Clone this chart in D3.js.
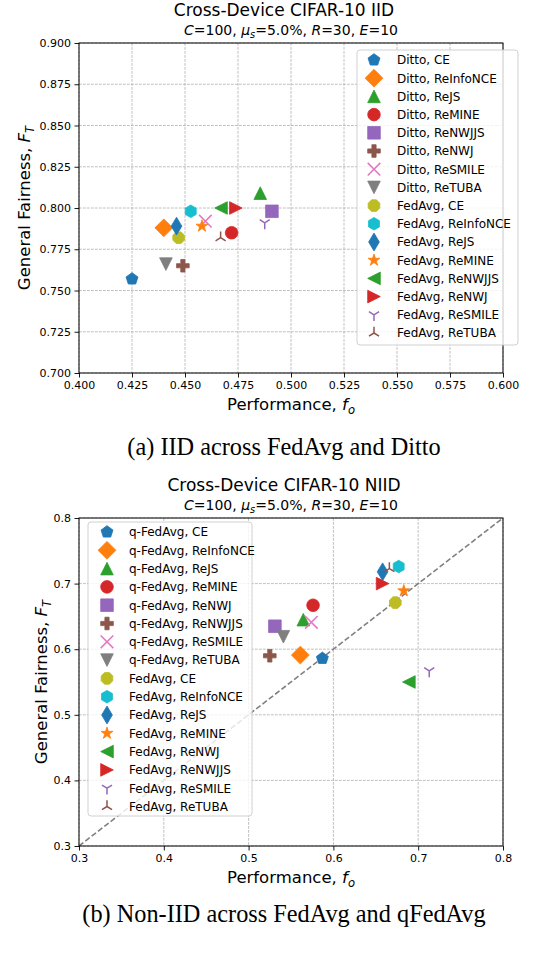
<!DOCTYPE html>
<html>
<head>
<meta charset="utf-8">
<script src="https://cdn.jsdelivr.net/npm/d3@7"></script>
<style>
    body { margin: 0; background: #fff; overflow: hidden; }
    svg { display: block; }
</style>
</head>
<body>
<svg id="fig" width="546" height="960"></svg>
<script>
// marker and colour cycle, same order in both panels
const markerTypes = ["p", "D", "^", "o", "s", "P", "x", "v", "8", "h", "d", "*", "<", ">", "1", "2"];
const tab10 = ["#1f77b4", "#ff7f0e", "#2ca02c", "#d62728", "#9467bd",
    "#8c564b", "#e377c2", "#7f7f7f", "#bcbd22", "#17becf"];

// (a) IID, Ditto vs FedAvg
const iidLabels = ["Ditto, CE", "Ditto, ReInfoNCE", "Ditto, ReJS", "Ditto, ReMINE",
    "Ditto, ReNWJJS", "Ditto, ReNWJ", "Ditto, ReSMILE", "Ditto, ReTUBA",
    "FedAvg, CE", "FedAvg, ReInfoNCE", "FedAvg, ReJS", "FedAvg, ReMINE",
    "FedAvg, ReNWJJS", "FedAvg, ReNWJ", "FedAvg, ReSMILE", "FedAvg, ReTUBA"];
const iidPerf = [0.425, 0.440, 0.4855, 0.472, 0.491, 0.449, 0.4596, 0.441,
    0.447, 0.4527, 0.446, 0.458, 0.467, 0.474, 0.4876, 0.4668];
const iidFair = [0.757, 0.788, 0.809, 0.785, 0.798, 0.765, 0.792, 0.766,
    0.782, 0.798, 0.789, 0.789, 0.800, 0.800, 0.791, 0.782];
const iidTicksX = [0.400, 0.425, 0.450, 0.475, 0.500, 0.525, 0.550, 0.575, 0.600];
const iidTicksY = [0.700, 0.725, 0.750, 0.775, 0.800, 0.825, 0.850, 0.875, 0.900];

// (b) Non-IID, q-FedAvg vs FedAvg
const niidLabels = ["q-FedAvg, CE", "q-FedAvg, ReInfoNCE", "q-FedAvg, ReJS", "q-FedAvg, ReMINE",
    "q-FedAvg, ReNWJ", "q-FedAvg, ReNWJJS", "q-FedAvg, ReSMILE", "q-FedAvg, ReTUBA",
    "FedAvg, CE", "FedAvg, ReInfoNCE", "FedAvg, ReJS", "FedAvg, ReMINE",
    "FedAvg, ReNWJ", "FedAvg, ReNWJJS", "FedAvg, ReSMILE", "FedAvg, ReTUBA"];
const niidPerf = [0.587, 0.561, 0.5645, 0.576, 0.531, 0.525, 0.574, 0.541,
    0.673, 0.677, 0.658, 0.683, 0.689, 0.658, 0.713, 0.666];
const niidFair = [0.586, 0.591, 0.645, 0.667, 0.635, 0.590, 0.641, 0.619,
    0.671, 0.726, 0.718, 0.689, 0.550, 0.700, 0.567, 0.723];
const niidTicks = [0.3, 0.4, 0.5, 0.6, 0.7, 0.8];
const diagonal = [0.3, 0.8];

const FONT = "DejaVu Sans";
const SERIF = "Liberation Serif";
const MS = 12.6;   // marker size, px

// matplotlib-like marker outlines centred on (0,0)
function polygon(n, r, rot) {
    let pts = [];
    for (let i = 0; i < n; i++) {
        let a = rot + i * 2 * Math.PI / n;
        pts.push([r * Math.sin(a), -r * Math.cos(a)]);
    }
    return "M" + pts.map(p => p.join(",")).join("L") + "Z";
}

function markerPath(type, ms) {
    let r = ms / 2;
    switch (type) {
        case "o": return `M${r},0A${r},${r} 0 1,1 ${-r},0A${r},${r} 0 1,1 ${r},0Z`;
        case "s": return `M${-r},${-r}H${r}V${r}H${-r}Z`;
        case "D": { let h = r * Math.SQRT2; return `M0,${-h}L${h},0L0,${h}L${-h},0Z`; }
        case "d": { let h = r * Math.SQRT2, w = 0.6 * h; return `M0,${-h}L${w},0L0,${h}L${-w},0Z`; }
        case "^": return `M0,${-r}L${r},${r}L${-r},${r}Z`;
        case "v": return `M0,${r}L${r},${-r}L${-r},${-r}Z`;
        case "<": return `M${-r},0L${r},${-r}L${r},${r}Z`;
        case ">": return `M${r},0L${-r},${-r}L${-r},${r}Z`;
        case "p": return polygon(5, r, 0);
        case "h": return polygon(6, r, 0);
        case "8": return polygon(8, r, Math.PI / 8);
        case "*": {
            let pts = [];
            for (let i = 0; i < 10; i++) {
                let rr = i % 2 ? r * 0.381966 : r, a = i * Math.PI / 5;
                pts.push([rr * Math.sin(a), -rr * Math.cos(a)]);
            }
            return "M" + pts.map(p => p.join(",")).join("L") + "Z";
        }
        case "P": {
            let u = ms / 6;
            let v = [[-1, -3], [1, -3], [1, -1], [3, -1], [3, 1], [1, 1], [1, 3], [-1, 3],
                [-1, 1], [-3, 1], [-3, -1], [-1, -1]];
            return "M" + v.map(p => [p[0] * u, p[1] * u].join(",")).join("L") + "Z";
        }
        case "x": return `M${-r},${-r}L${r},${r}M${-r},${r}L${r},${-r}`;
        case "1": return `M0,0V${r}M0,0L${0.8 * r},${-0.5 * r}M0,0L${-0.8 * r},${-0.5 * r}`;
        case "2": return `M0,0V${-r}M0,0L${0.8 * r},${0.5 * r}M0,0L${-0.8 * r},${0.5 * r}`;
    }
}

function drawMarker(g, type, color, x, y) {
    let lineOnly = (type == "x" || type == "1" || type == "2");
    g.append("path")
        .attr("d", markerPath(type, MS))
        .attr("transform", `translate(${x},${y})`)
        .attr("fill", lineOnly ? "none" : color)
        .attr("stroke", color)
        .attr("stroke-width", lineOnly ? 1.5 : 0.8)
        .attr("stroke-linejoin", "miter");
}

// text with italic / subscript pieces (mathtext stand-in)
function richText(sel, parts, size) {
    let shift = 0;
    parts.forEach(p => {
        let ts = sel.append("tspan").text(p.t);
        if (p.i) ts.style("font-style", "italic");
        let target = p.sub ? size * 0.24 : 0;
        if (target != shift) { ts.attr("dy", target - shift); shift = target; }
        if (p.sub) ts.style("font-size", (size * 0.7) + "px");
    });
}

const svg = d3.select("#fig");
svg.append("rect").attr("width", 546).attr("height", 960).attr("fill", "#fff");

const subtitleParts = [{ t: "C", i: true }, { t: "=100, " }, { t: "μ", i: true }, { t: "s", i: true, sub: true },
    { t: "=5.0%, " }, { t: "R", i: true }, { t: "=30, " }, { t: "E", i: true }, { t: "=10" }];

function panel(o) {
    let x = d3.scaleLinear().domain(o.xDomain).range([o.left, o.right]),
        y = d3.scaleLinear().domain(o.yDomain).range([o.bottom, o.top]);
    let g = svg.append("g");

    // titles
    g.append("text").attr("x", 284).attr("y", o.top - 27)
        .attr("text-anchor", "middle").style("font", `17px "${FONT}"`)
        .text(o.title);
    let st = g.append("text").attr("x", (o.left + o.right) / 2).attr("y", o.top - 8)
        .attr("text-anchor", "middle").style("font", `14px "${FONT}"`);
    richText(st, subtitleParts, 14);

    // grid
    let grid = g.append("g").attr("stroke", "#b0b0b0").attr("stroke-width", 0.8)
        .attr("stroke-dasharray", "2.8,1.2");
    o.xTicks.forEach(t => grid.append("line")
        .attr("x1", x(t)).attr("x2", x(t)).attr("y1", o.top).attr("y2", o.bottom));
    o.yTicks.forEach(t => grid.append("line")
        .attr("y1", y(t)).attr("y2", y(t)).attr("x1", o.left).attr("x2", o.right));

    if (o.diagonal) {
        g.append("line")
            .attr("x1", x(o.diagonal[0])).attr("y1", y(o.diagonal[0]))
            .attr("x2", x(o.diagonal[1])).attr("y2", y(o.diagonal[1]))
            .attr("stroke", "#808080").attr("stroke-width", 1.6)
            .attr("stroke-dasharray", "5.5,2.5");
    }

    // points
    let pts = g.append("g");
    o.perf.forEach((v, i) => drawMarker(pts, markerTypes[i], tab10[i % 10], x(v), y(o.fair[i])));

    // axes
    let xAxis = d3.axisBottom(x).tickValues(o.xTicks).tickFormat(d3.format(o.fmt))
        .tickSizeInner(4.5).tickSizeOuter(0).tickPadding(3.5);
    let yAxis = d3.axisLeft(y).tickValues(o.yTicks).tickFormat(d3.format(o.fmt))
        .tickSizeInner(4.5).tickSizeOuter(0).tickPadding(3.5);
    let ax = g.append("g").attr("transform", `translate(0,${o.bottom})`).call(xAxis);
    let ay = g.append("g").attr("transform", `translate(${o.left},0)`).call(yAxis);
    [ax, ay].forEach(a => {
        a.select(".domain").remove();
        a.selectAll("text").style("font", `11px "${FONT}"`).attr("fill", "#000");
        a.selectAll("line").attr("stroke", "#000").attr("stroke-width", 0.9);
    });

    g.append("rect").attr("x", o.left).attr("y", o.top)
        .attr("width", o.right - o.left).attr("height", o.bottom - o.top)
        .attr("fill", "none").attr("stroke", "#000").attr("stroke-width", 1);

    // axis labels
    let xl = g.append("text").attr("x", (o.left + o.right) / 2).attr("y", o.bottom + 37)
        .attr("text-anchor", "middle").style("font", `16.5px "${FONT}"`);
    richText(xl, [{ t: "Performance, " }, { t: "f", i: true }, { t: "o", i: true, sub: true }], 16.5);
    let yl = g.append("text")
        .attr("transform", `translate(${o.ylabelX},${(o.top + o.bottom) / 2}) rotate(-90)`)
        .attr("text-anchor", "middle").style("font", `16.5px "${FONT}"`);
    richText(yl, [{ t: "General Fairness, " }, { t: "F", i: true }, { t: "T", i: true, sub: true }], 16.5);

    // legend
    let L = o.legend;
    let lg = g.append("g");
    lg.append("rect").attr("x", L.x).attr("y", L.y).attr("width", L.w).attr("height", L.h)
        .attr("rx", 3).attr("fill", "#fff").attr("fill-opacity", 0.8)
        .attr("stroke", "#cccccc").attr("stroke-width", 0.9);
    o.labels.forEach((lab, i) => {
        let cy = L.row0 + i * L.step;
        drawMarker(lg, markerTypes[i], tab10[i % 10], L.mx, cy);
        lg.append("text").attr("x", L.tx).attr("y", cy).attr("dy", "0.36em")
            .style("font", `12px "${FONT}"`).text(lab);
    });

    // caption
    svg.append("text").attr("x", 284).attr("y", o.caption.y)
        .attr("text-anchor", "middle").style("font", `24.3px "${SERIF}"`)
        .text(o.caption.text);
}

panel({
    title: "Cross-Device CIFAR-10 IID",
    left: 79, right: 503, top: 43, bottom: 373,
    xDomain: [0.4, 0.6], yDomain: [0.7, 0.9],
    xTicks: iidTicksX, yTicks: iidTicksY, fmt: ".3f",
    perf: iidPerf, fair: iidFair, labels: iidLabels,
    ylabelX: 30,
    legend: { x: 357, y: 50, w: 161, h: 295, row0: 60, step: 18.2, mx: 374, tx: 397 },
    caption: { text: "(a) IID across FedAvg and Ditto", y: 455 }
});

panel({
    title: "Cross-Device CIFAR-10 NIID",
    left: 79, right: 503, top: 518, bottom: 846,
    xDomain: [0.3, 0.8], yDomain: [0.3, 0.8],
    xTicks: niidTicks, yTicks: niidTicks, fmt: ".1f",
    perf: niidPerf, fair: niidFair, labels: niidLabels,
    ylabelX: 47, diagonal: diagonal,
    legend: { x: 88, y: 522, w: 164, h: 294, row0: 532, step: 18.3, mx: 107, tx: 129 },
    caption: { text: "(b) Non-IID across FedAvg and qFedAvg", y: 922 }
});

// figure caption line; only its top edge shows at the bottom of the page, as in the source
svg.append("text").attr("x", 2).attr("y", 975)
    .style("font", `24px "${SERIF}"`)
    .text("Fig. 1: Cross-Device FL in IID & Non-IID settings.");
</script>
</body>
</html>
